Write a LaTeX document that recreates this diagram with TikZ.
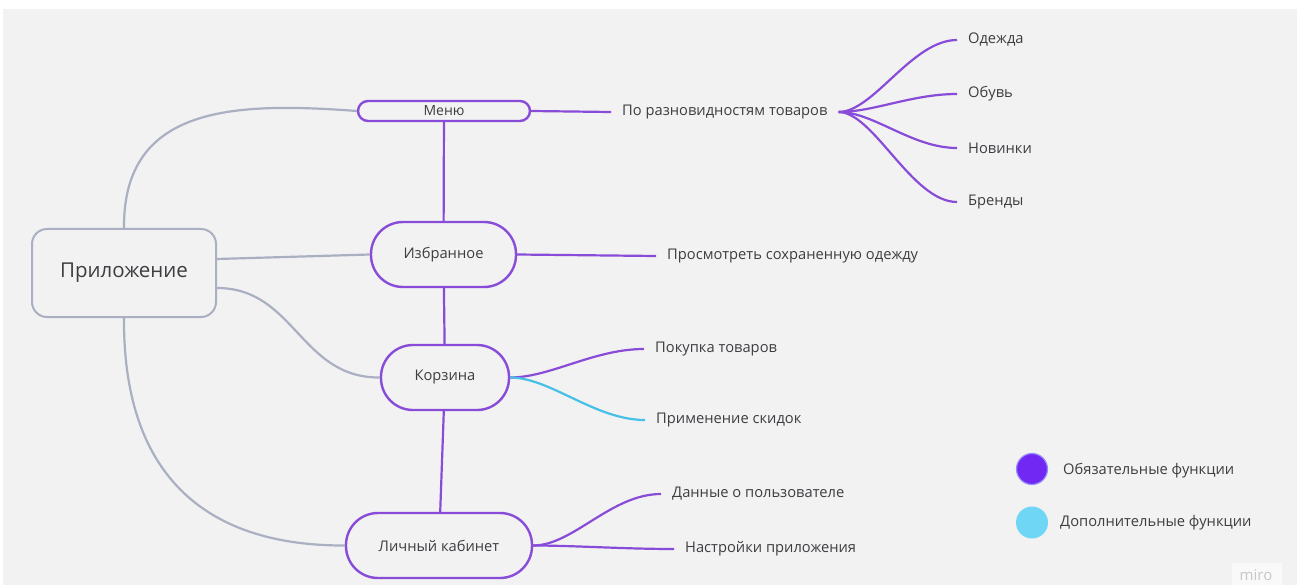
\documentclass[tikz,border=0pt]{standalone}
\usepackage{fontspec}
\setmainfont{Open Sans}
\usetikzlibrary{positioning,calc}
\definecolor{boardgray}{RGB}{242,242,242}
\definecolor{mustviolet}{RGB}{136,76,216}
\definecolor{extracyan}{RGB}{70,192,230}
\definecolor{linkgray}{RGB}{170,176,194}
\definecolor{inkgray}{RGB}{62,62,66}
\definecolor{dotviolet}{RGB}{112,40,242}
\definecolor{dotrim}{RGB}{150,140,252}
\definecolor{dotcyan}{RGB}{112,214,245}

\begin{document}
\begin{tikzpicture}[x=1pt, y=-1pt, font=\fontsize{14.7}{17}\selectfont, text=inkgray,
  pill/.style={draw=mustviolet, line width=2.4pt, rounded corners=32pt, minimum height=65pt, fill=boardgray},
  leaf/.style={anchor=west, inner xsep=11pt, inner ysep=2pt},
  must/.style={mustviolet, line width=2.2pt},
  extra/.style={extracyan, line width=2.2pt},
  link/.style={linkgray, line width=2.2pt}]
\fill[white] (0,0) rectangle (1297,585);
\fill[boardgray] (3,9) rectangle (1297,585);
\useasboundingbox (0,0) rectangle (1297,585);

% main topics
\node[draw=linkgray, line width=2pt, fill=boardgray, rounded corners=15pt, minimum width=184pt, minimum height=88pt, font=\fontsize{20.5}{24}\selectfont] (app) at (124,273) {Приложение};
\node[pill, minimum width=172pt, minimum height=20pt, rounded corners=10pt, inner sep=0pt, font=\fontsize{14}{15}\selectfont] (menu) at (444,111) {Меню};
\node[pill, minimum width=145pt] (fav) at (443.5,254.5) {Избранное};
\node[pill, minimum width=128pt] (cart) at (445,377.5) {Корзина};
\node[pill, minimum width=186pt] (cab) at (439,545.5) {Личный кабинет};

% leaves
\node[leaf] (kinds) at (611,112) {По разновидностям товаров};
\node[leaf] (clothes) at (957,40) {Одежда};
\node[leaf] (shoes) at (957,94) {Обувь};
\node[leaf] (news) at (957,148) {Новинки};
\node[leaf] (brands) at (957,202) {Бренды};
\node[leaf] (saved) at (656,256) {Просмотреть сохраненную одежду};
\node[leaf] (buy) at (644,349) {Покупка товаров};
\node[leaf] (sale) at (645,420) {Применение скидок};
\node[leaf] (user) at (661,494) {Данные о пользователе};
\node[leaf] (prefs) at (674,549) {Настройки приложения};

% legend
\node[circle, fill=dotviolet, draw=dotrim, line width=1.2pt, minimum size=31pt, inner sep=0pt] (mustdot) at (1032,469) {};
\node[circle, fill=dotcyan, minimum size=32pt, inner sep=0pt] (extradot) at (1032,522.5) {};
\node[anchor=west, inner sep=0pt] (mustkey) at (1063,471) {Обязательные функции};
\node[anchor=west, inner sep=0pt] (extrakey) at (1060,523) {Дополнительные функции};
\fill[white!50!boardgray] (1232,563) rectangle (1282,585);
\node[text=black!22, font=\fontsize{15}{17}\selectfont] (miro) at (1256,575) {miro};

% links from the app
\draw[link] (app.north) .. controls (123,105) and (235,102) .. (menu.west);
\draw[link] ($(app.east)+(0,-14)$) -- (fav.west);
\draw[link] ($(app.east)+(0,15)$) .. controls (295,288) and (300,378) .. (cart.west);
\draw[link] (app.south) .. controls (123,470) and (200,546) .. (cab.west);

% spine
\draw[must] (menu) -- (fav);
\draw[must] (fav) -- (cart);
\draw[must] (cart) -- (cab);

% branches
\draw[must] (menu.east) -- (kinds.west);
\foreach \leafname in {clothes,shoes,news,brands}
  \draw[must] (kinds.east) .. controls +(35,0) and +(-45,0) .. (\leafname.west);
\draw[must] (fav.east) -- (saved.west);
\draw[must] (cart.east) .. controls +(40,0) and +(-50,0) .. (buy.west);
\draw[extra] (cart.east) .. controls +(40,0) and +(-50,0) .. (sale.west);
\draw[must] (cab.east) .. controls +(40,0) and +(-50,0) .. (user.west);
\draw[must] (cab.east) .. controls +(40,0) and +(-50,0) .. (prefs.west);
\end{tikzpicture}
\end{document}
